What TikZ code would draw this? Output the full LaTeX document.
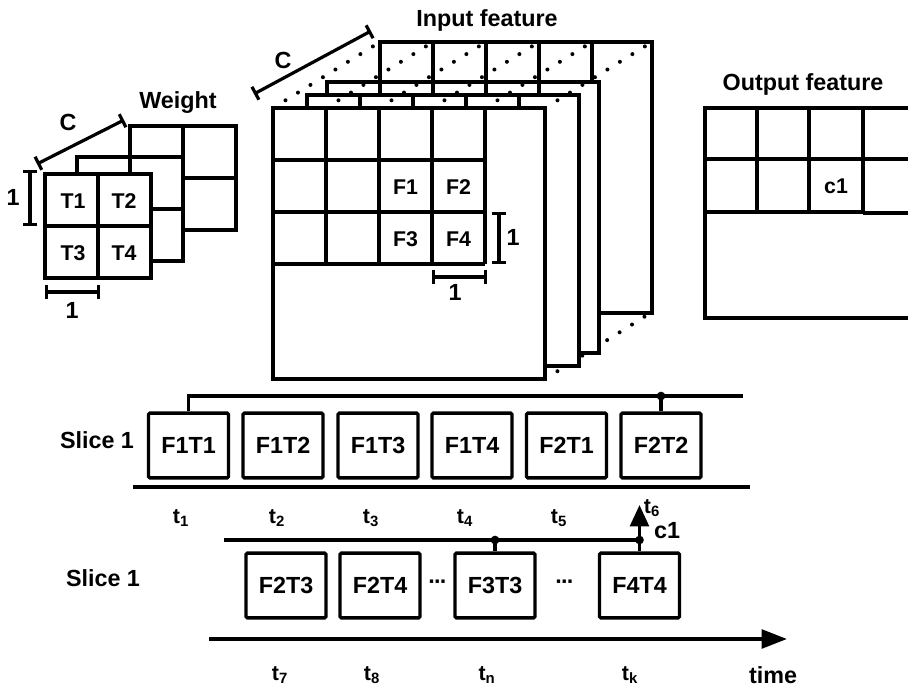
\documentclass[tikz,border=0pt]{standalone}
\usepackage{fontspec}
\setmainfont{Liberation Sans}
\usetikzlibrary{arrows.meta}
\newcommand\featlayer[2]{%
  \draw[edge, fill=white] (#1,#2) rectangle ++(272,271);
  \foreach \i in {1,...,4} \draw[edge] (#1+53*\i,#2) -- ++(0,156);
  \foreach \j in {1,2,3} \draw[edge] (#1,#2+52*\j) -- ++(212,0);
}
\newcommand\wlayer[2]{%
  \draw[edge, fill=white] (#1,#2) rectangle ++(106,104);
  \draw[edge] (#1+53,#2) -- ++(0,104);
  \draw[edge] (#1,#2+52) -- ++(106,0);
}
\begin{document}
\begin{tikzpicture}[x=0.75pt,y=-0.75pt,
  every node/.style={font=\fontsize{17.5}{20}\selectfont\bfseries, inner sep=0pt},
  edge/.style={line width=2.6pt},
  tbox/.style={draw, line width=2.6pt, minimum width=60pt, minimum height=48.5pt, rounded corners=1pt},
  cellfont/.style={font=\fontsize{16}{19}\selectfont\bfseries},
  tlab/.style={font=\fontsize{16}{19}\selectfont\bfseries},
  dimline/.style={line width=2.4pt, {Bar[width=11pt]}-{Bar[width=11pt]}},
  junction/.style={circle, fill, inner sep=0pt, minimum size=6.5pt},
  dotline/.style={line width=3pt, line cap=round, dash pattern=on 0pt off 11pt},
]
\useasboundingbox (0,0) rectangle (908,689);
\clip (0,0) rectangle (908,689);

% ---------------- Weight ----------------
\wlayer{130}{126}
\wlayer{77}{157}
\wlayer{45}{174}
\node[cellfont] (t1) at (73,201) {T1};
\node[cellfont] (t2) at (124,201) {T2};
\node[cellfont] (t3) at (73,253) {T3};
\node[cellfont] (t4) at (124,253) {T4};
\node (wlabel) at (178,103) {Weight};
\coordinate (wc1) at (37,164);
\coordinate (wc2) at (124,120);
\draw[dimline] (wc1) -- (wc2);
\node (wclab) at (68,122) {C};
\coordinate (wv1) at (30,170);
\coordinate (wv2) at (30,226);
\draw[dimline] (wv1) -- (wv2);
\node (wvlab) at (13,197) {1};
\coordinate (wh1) at (45,292);
\coordinate (wh2) at (100,292);
\draw[dimline] (wh1) -- (wh2);
\node (whlab) at (72,310) {1};

% ---------------- Input feature ----------------
\featlayer{380}{42}
\draw[dotline] (545,379) -- (652,312);
\featlayer{327}{82}
\featlayer{307}{95}
\featlayer{273}{108}
\foreach \x in {273,326,379,432,485,545} \draw[dotline] (\x,108) -- (\x+107,42);
\node[cellfont] (f1) at (405.5,187) {F1};
\node[cellfont] (f2) at (458.5,187) {F2};
\node[cellfont] (f3) at (405.5,239) {F3};
\node[cellfont] (f4) at (458.5,239) {F4};
\node (inlabel) at (487,20) {Input feature};
\coordinate (ic1) at (254,94);
\coordinate (ic2) at (371,31);
\draw[dimline] (ic1) -- (ic2);
\node (iclab) at (283,60) {C};
\coordinate (iv1) at (499,212);
\coordinate (iv2) at (499,264);
\draw[dimline] (iv1) -- (iv2);
\node (ivlab) at (513,237) {1};
\coordinate (ih1) at (432,277);
\coordinate (ih2) at (487,277);
\draw[dimline] (ih1) -- (ih2);
\node (ihlab) at (455,292) {1};

% ---------------- Output feature ----------------
\node (outlabel) at (803,84) {Output feature};
\draw[edge] (705,108) rectangle (960,318);
\draw[edge] (705,159) -- (960,159);
\draw[edge] (705,212) -- (863,212);
\draw[edge] (863,213) -- (960,213);
\foreach \x in {757,809,863} \draw[edge] (\x,108) -- (\x,212);
\node[cellfont] (c1cell) at (836,186) {c1};

% ---------------- Slice 1 (first row) ----------------
\node (slice1a) at (97,440) {Slice 1};
\node[tbox] (f1t1) at (188.5,445.5) {F1T1};
\node[tbox] (f1t2) at (283,445.5) {F1T2};
\node[tbox] (f1t3) at (378,445.5) {F1T3};
\node[tbox] (f1t4) at (472,445.5) {F1T4};
\node[tbox] (f2t1) at (566.5,445.5) {F2T1};
\node[tbox] (f2t2) at (661,445.5) {F2T2};
\coordinate (a1end) at (743,396);
\draw[edge] (f1t1.north) |- (a1end);
\draw[edge] (f2t2.north) -- (f2t2.north |- a1end);
\node[junction] (j1) at (f2t2.north |- a1end) {};
\coordinate (b1start) at (133,487);
\coordinate (b1end) at (750,487);
\draw[edge] (b1start) -- (b1end);
\node[tlab] (lt1) at (181,518) {t\textsubscript{1}};
\node[tlab] (lt2) at (277,518) {t\textsubscript{2}};
\node[tlab] (lt3) at (371,518) {t\textsubscript{3}};
\node[tlab] (lt4) at (465,518) {t\textsubscript{4}};
\node[tlab] (lt5) at (559,518) {t\textsubscript{5}};
\node[tlab] (lt6) at (652,508) {t\textsubscript{6}};

% ---------------- Slice 1 (second row) ----------------
\node (slice1b) at (103,578) {Slice 1};
\node[tbox] (f2t3) at (286,585.5) {F2T3};
\node[tbox] (f2t4) at (380,585.5) {F2T4};
\node[tbox] (f3t3) at (495,585.5) {F3T3};
\node[tbox] (f4t4) at (639.5,585.5) {F4T4};
\node (dots1) at (438,585) {\char"00B7\kern-1.5pt\char"00B7\kern-1.5pt\char"00B7};
\node (dots2) at (565,585) {\char"00B7\kern-1.5pt\char"00B7\kern-1.5pt\char"00B7};
\coordinate (l2start) at (224,540);
\draw[edge] (l2start) -- (f4t4.north |- l2start);
\draw[edge] (f3t3.north) -- (f3t3.north |- l2start);
\node[junction] (j2) at (f3t3.north |- l2start) {};
\coordinate (c1tip) at (639.5,505);
\draw[edge, -{Triangle[length=16pt,width=14pt]}] (f4t4.north) -- (c1tip);
\node[junction] (j3) at (f4t4.north |- l2start) {};
\node (c1lab) at (667,531) {c1};
\coordinate (axstart) at (209,639);
\coordinate (axend) at (787,639);
\draw[edge, -{Triangle[length=19pt,width=14pt]}] (axstart) -- (axend);
\node[tlab] (lt7) at (280,675) {t\textsubscript{7}};
\node[tlab] (lt8) at (372,675) {t\textsubscript{8}};
\node[tlab] (ltn) at (487,675) {t\textsubscript{n}};
\node[tlab] (ltk) at (630,675) {t\textsubscript{k}};
\node (timelab) at (773,675) {time};
\end{tikzpicture}
\end{document}
